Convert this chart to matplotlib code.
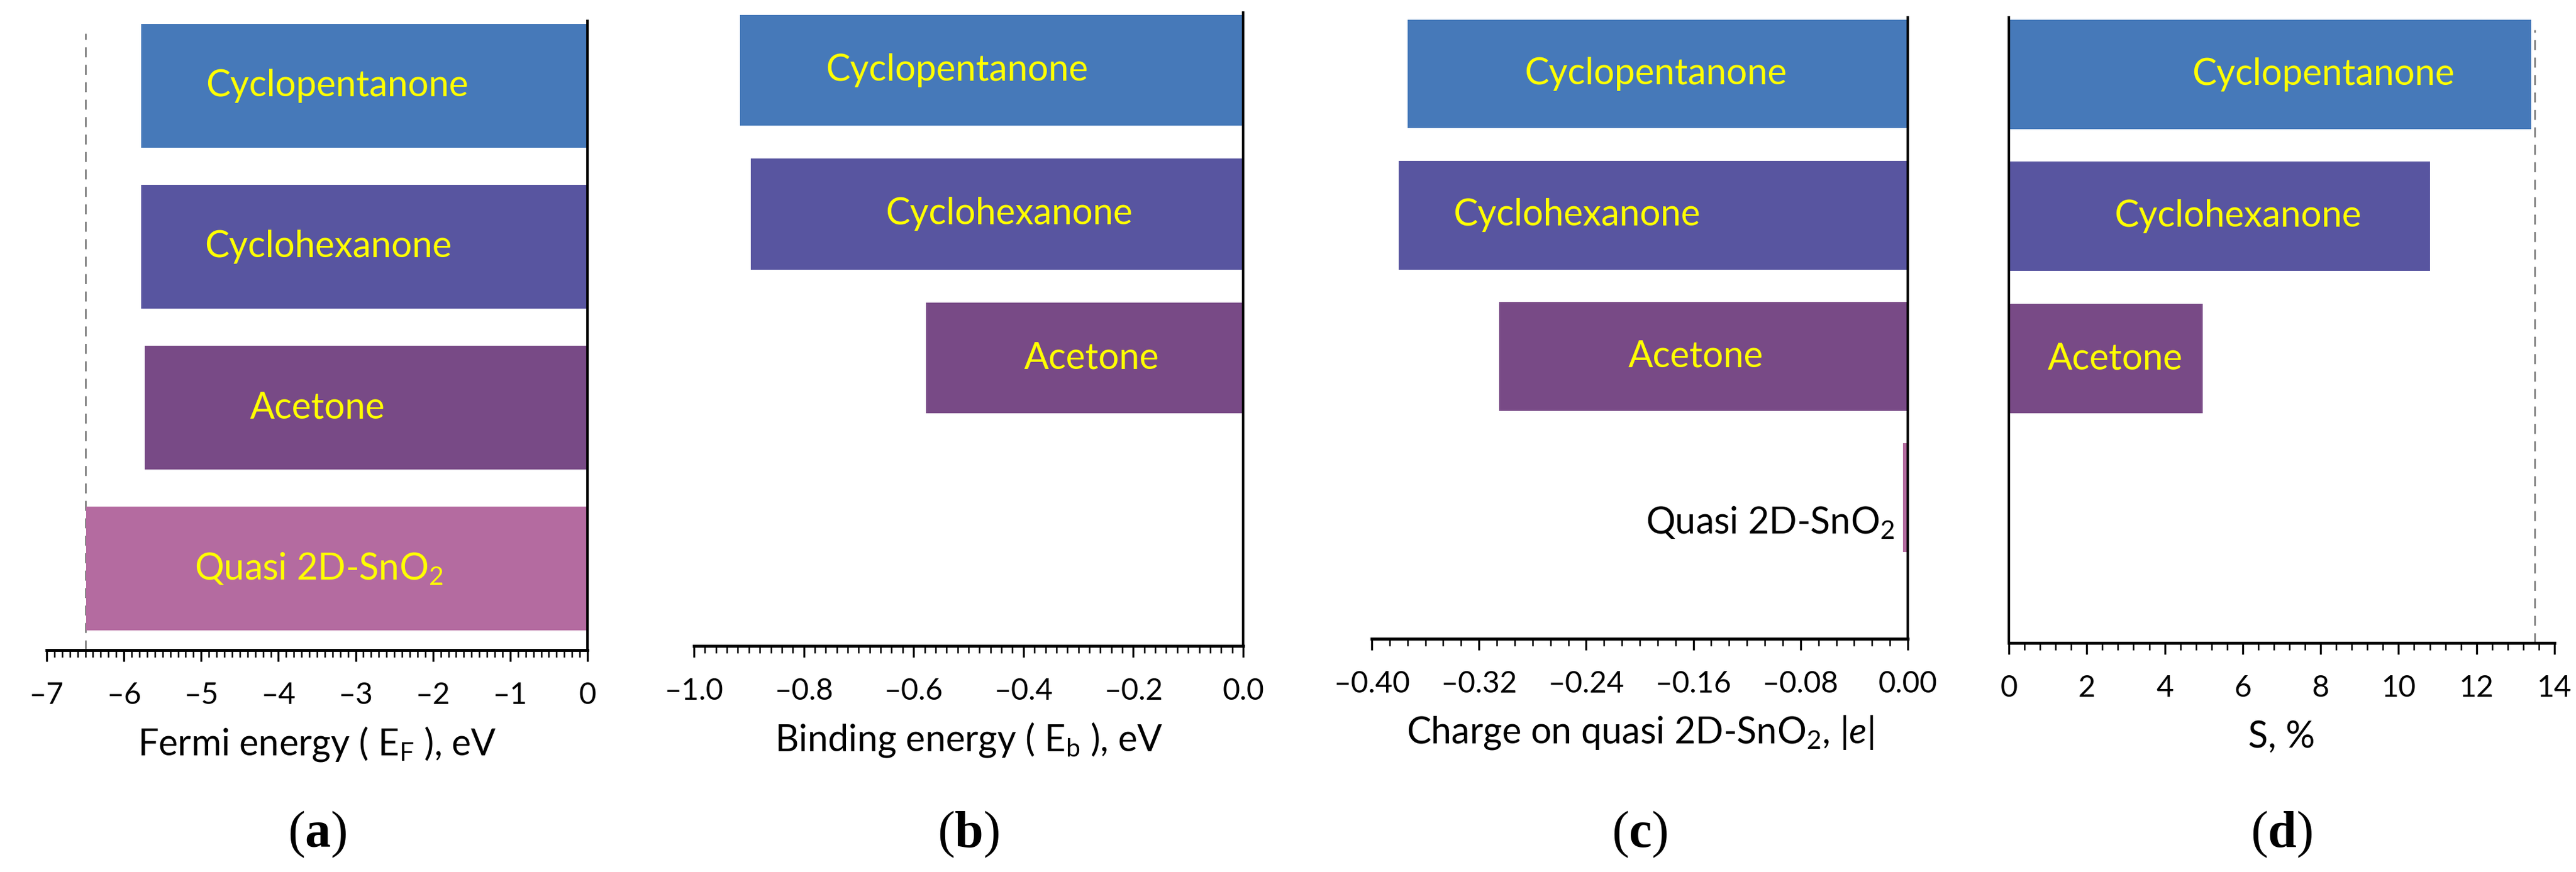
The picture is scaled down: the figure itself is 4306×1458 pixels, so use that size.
import numpy as np
import matplotlib.pyplot as plt
from matplotlib.ticker import MultipleLocator, FuncFormatter

plt.rcParams['font.family'] = ['Lato', 'DejaVu Sans']
plt.rcParams['mathtext.fontset'] = 'custom'
plt.rcParams['mathtext.rm'] = 'Lato'
plt.rcParams['mathtext.it'] = 'Lato:italic'
plt.rcParams['mathtext.bf'] = 'Liberation Serif:bold'
plt.rcParams['mathtext.default'] = 'regular'

# categories, bottom to top
molecules = ["Quasi 2D-SnO$_2$", "Acetone", "Cyclohexanone", "Cyclopentanone"]
bar_colors = ['#B46BA0', '#784A86', '#5855A0', '#4679B9']

# (a) Fermi energy, eV
fermi_energy = [-6.49, -5.73, -5.78, -5.78]
fermi_ref = -6.5
# (b) binding energy, eV (no bar for bare SnO2)
binding_energy = [np.nan, -0.577, -0.897, -0.916]
# (c) charge on quasi 2D-SnO2, |e|
charge = [-0.0035, -0.305, -0.380, -0.373]
# (d) sensitivity S, %
sensitivity = [np.nan, 4.97, 10.81, 13.40]
s_ref = 13.5


def tick_fmt(decimals):
    def f(x, pos):
        if abs(x) < 1e-9:
            x = 0.0
        s = '%.*f' % (decimals, abs(x))
        return ('\u2013' + s) if x < 0 else s
    return FuncFormatter(f)


W, H = 4306, 1458
fig = plt.figure(figsize=(W / 100, H / 100), dpi=100)

panels = [
    dict(vals=fermi_energy, xlim=(-7, 0), major=1, minor=0.1, dec=0,
         xlabel='Fermi energy ( E$_F$ ), eV', box=(78, 982, 35, 1087),
         ylim=(-0.506, 3.405), side='right', tag='a',
         lab_x=[0.503, 0.501, 0.521, 0.537], ref=fermi_ref),
    dict(vals=binding_energy, xlim=(-1.0, 0), major=0.2, minor=0.02, dec=1,
         xlabel='Binding energy ( E$_b$ ), eV', box=(1160, 2078, 21, 1080),
         ylim=(-1.0, 3.40), side='right', tag='b',
         lab_x=[None, 0.724, 0.574, 0.479], ref=None),
    dict(vals=charge, xlim=(-0.40, 0), major=0.08, minor=0.08 / 6, dec=2,
         xlabel=r'Charge on quasi 2D-SnO$_2$, |$\mathit{e}$|', box=(2293, 3189, 29, 1068),
         ylim=(-1.0, 3.40), side='right', tag='c',
         lab_x=[0.975, 0.605, 0.382, 0.530], ref=None),
    dict(vals=sensitivity, xlim=(0, 14), major=2, minor=0.4, dec=0,
         xlabel='S, %', box=(3358, 4270, 29, 1075),
         ylim=(-1.0, 3.40), side='left', tag='d',
         lab_x=[None, 0.195, 0.419, 0.576], ref=s_ref),
]

for p in panels:
    l, r, t, b = p['box']
    ax = fig.add_axes([l / W, 1 - b / H, (r - l) / W, (b - t) / H])
    ypos = np.arange(len(molecules))
    for i, v in enumerate(p['vals']):
        if np.isnan(v):
            continue
        ax.barh(ypos[i], v, height=0.77, color=bar_colors[i], edgecolor='none', zorder=2)
    ax.set_xlim(*p['xlim'])
    ax.set_ylim(*p['ylim'])

    for s in ['top', 'left', 'right']:
        ax.spines[s].set_visible(False)
    ax.spines[p['side']].set_visible(True)
    ax.spines[p['side']].set_linewidth(3.0)
    ax.spines['bottom'].set_linewidth(3.6)
    ax.spines['bottom'].set_zorder(4)

    ax.set_yticks([])
    ax.xaxis.set_major_locator(MultipleLocator(p['major']))
    ax.xaxis.set_minor_locator(MultipleLocator(p['minor']))
    ax.xaxis.set_major_formatter(tick_fmt(p['dec']))
    ax.tick_params(axis='x', which='major', direction='out', length=14, width=2.4,
                   labelsize=36, pad=24)
    ax.tick_params(axis='x', which='minor', direction='out', length=8.5, width=1.8)

    if p['ref'] is not None:
        ax.axvline(p['ref'], ymin=0, ymax=0.98, color='#7f7f7f', lw=2,
                   dashes=(6, 4.5), zorder=1)

    for i, name in enumerate(molecules):
        if p['lab_x'][i] is None:
            continue
        if p['tag'] == 'c' and i == 0:
            ax.text(p['lab_x'][i], ypos[i] - 0.18, name, transform=ax.get_yaxis_transform(),
                    ha='right', va='center', fontsize=44, color='black', zorder=3)
        else:
            ax.text(p['lab_x'][i], ypos[i], name, transform=ax.get_yaxis_transform(),
                    ha='center', va='center', fontsize=44, color='#FFFF00', zorder=3)

    ax.set_xlabel(p['xlabel'], fontsize=44)
    ax.xaxis.set_label_coords(0.5, -157 / (b - t))
    ax.xaxis.label.set_va('center')

    fig.text((l + r) / 2 / W, 1 - 1395 / H, r'($\mathbf{' + p['tag'] + '}$)',
             ha='center', va='center', fontsize=62, family='Liberation Serif')

fig.savefig('out.png', dpi=100)
